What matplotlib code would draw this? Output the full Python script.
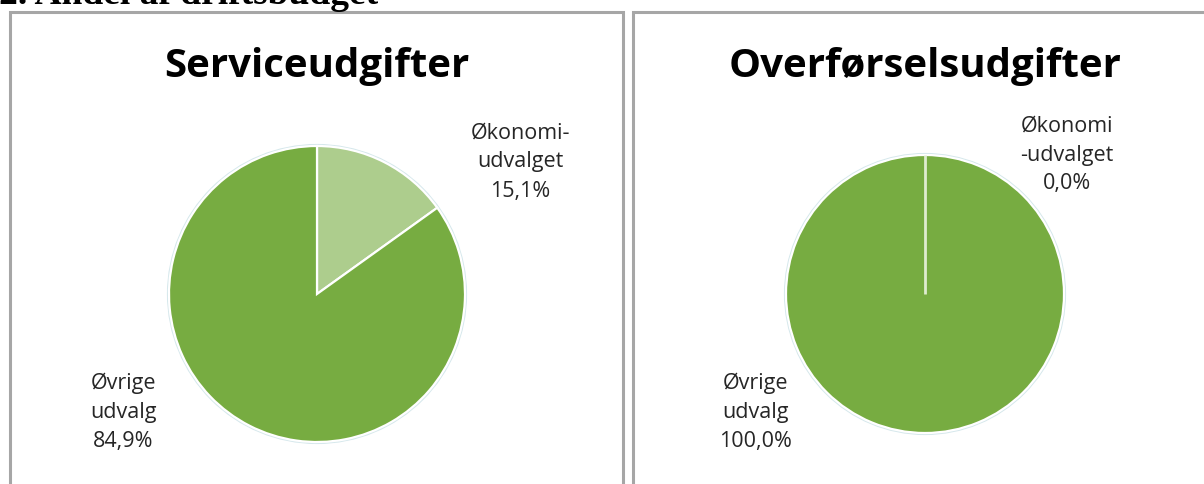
import numpy as np
import matplotlib.pyplot as plt
from matplotlib.patches import Rectangle, Circle

# data
pie_titles = ['Serviceudgifter', 'Overførselsudgifter']
service_labels = ['Økonomi-\nudvalget', 'Øvrige\nudvalg']
service_values = [15.1, 84.9]
transfer_labels = ['Økonomi\n-udvalget', 'Øvrige\nudvalg']
transfer_values = [0.0, 100.0]

light_green = '#adcd8d'
dark_green = '#77ac41'

W, H = 1204, 484
fig = plt.figure(figsize=(W / 100, H / 100), dpi=100)
fig.patch.set_facecolor('white')


def px(x, y):
    # pixel coords (top-left origin) -> figure fraction
    return x / W, 1 - y / H


# heading, clipped at the top like the screenshot
fig.text(*px(-1, 4), '2. Andel af driftsbudget', family='Liberation Serif',
         weight='bold', fontsize=27, va='baseline', ha='left')

# panel frames
for x0, x1 in [(10, 623), (633, 1220)]:
    fig.add_artist(Rectangle(px(x0, 500), (x1 - x0) / W, (500 - 12) / H,
                             transform=fig.transFigure, fill=False,
                             edgecolor='#a6a6a6', linewidth=2.2))


def draw_pie(cx, cy, r, values, labels, title, label_pos):
    ax = fig.add_axes([(cx - r - 4) / W, (H - cy - r - 4) / H,
                       (2 * r + 8) / W, (2 * r + 8) / H])
    ax.add_patch(Circle((0, 0), 1.0, facecolor='none', edgecolor='#d6e8ec',
                        linewidth=3, zorder=0))
    wedges, _ = ax.pie(values, colors=[light_green, dark_green], startangle=90,
                       counterclock=False, radius=1.0,
                       wedgeprops=dict(edgecolor='white', linewidth=1.6))
    # zero slices still show their separator line
    for w in wedges:
        if abs(w.theta2 - w.theta1) < 1e-9:
            a = np.deg2rad(w.theta1)
            ax.plot([0, np.cos(a)], [0, np.sin(a)], color='#dfeccf',
                    linewidth=2, solid_capstyle='butt', zorder=5)
    lim = (r + 4) / r
    ax.set_xlim(-lim, lim)
    ax.set_ylim(-lim, lim)
    ax.set_aspect('equal')
    ax.axis('off')
    fig.text(*px(cx, 77), title, family='Open Sans', weight='bold',
             fontsize=29, ha='center', va='baseline')
    for lab, v, (lx, ly) in zip(labels, values, label_pos):
        txt = lab + '\n' + f'{v:.1f}%'.replace('.', ',')
        fig.text(*px(lx, ly), txt, family='Open Sans', fontsize=15.5,
                 ha='center', va='center', linespacing=1.5, color='#262626')


draw_pie(317, 294, 148, service_values, service_labels, pie_titles[0],
         [(520, 162), (123, 412)])
draw_pie(925, 294, 139, transfer_values, transfer_labels, pie_titles[1],
         [(1067, 155), (755, 412)])

fig.savefig('out.png', dpi=100)
